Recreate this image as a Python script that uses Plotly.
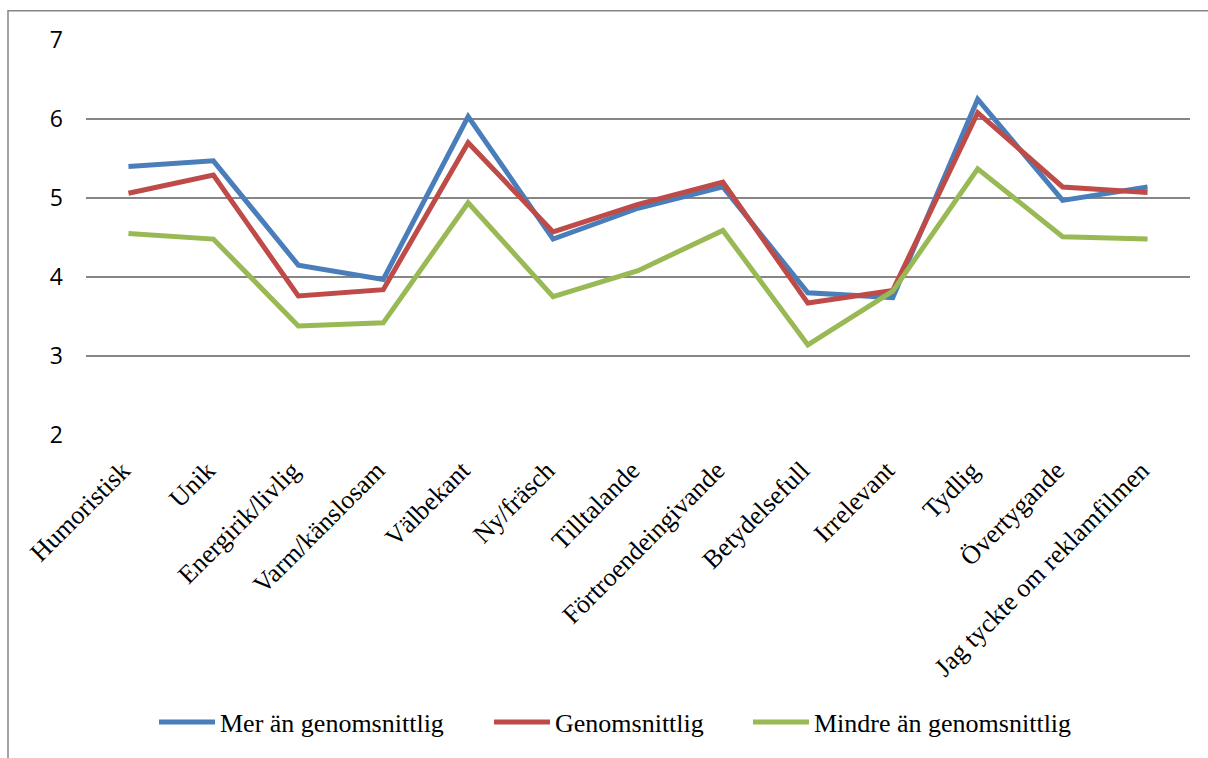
import plotly.graph_objects as go

# Attribute ratings per viewer group
categories = [
    "Humoristisk", "Unik", "Energirik/livlig", "Varm/känslosam", "Välbekant",
    "Ny/fräsch", "Tilltalande", "Förtroendeingivande", "Betydelsefull",
    "Irrelevant", "Tydlig", "Övertygande", "Jag tyckte om reklamfilmen",
]
mer_an = [5.40, 5.47, 4.15, 3.97, 6.03, 4.48, 4.87, 5.14, 3.80, 3.74, 6.25, 4.97, 5.14]
genomsnittlig = [5.06, 5.29, 3.76, 3.84, 5.70, 4.57, 4.92, 5.20, 3.67, 3.83, 6.08, 5.14, 5.07]
mindre_an = [4.55, 4.48, 3.38, 3.42, 4.94, 3.75, 4.08, 4.59, 3.14, 3.82, 5.37, 4.51, 4.48]

# plot-area geometry in pixels, used to place frame and legends in paper units
L, R, T, B = 86, 1190, 39.5, 437.7
W, H = R - L, B - T

def px_x(p):
    return (p - L) / W

def px_y(p):
    return (B - p) / H

# name, values, colour, legend id, legend left edge (px)
series = [
    ("Mer än genomsnittlig", mer_an, "#4A7EBB", "legend", 154),
    ("Genomsnittlig", genomsnittlig, "#BE4B48", "legend2", 489),
    ("Mindre än genomsnittlig", mindre_an, "#98B954", "legend3", 748),
]

fig = go.Figure()
legends = {}
for name, values, color, leg, left in series:
    fig.add_trace(go.Scatter(
        x=categories, y=values, name=name, mode="lines",
        line=dict(color=color, width=5), legend=leg,
    ))
    legends[leg] = dict(
        orientation="h", x=px_x(left), y=px_y(727),
        xanchor="left", yanchor="middle",
        font=dict(family="Liberation Serif", size=26, color="black"),
        itemwidth=56, bgcolor="rgba(0,0,0,0)",
    )

fig.update_layout(
    width=1208, height=758,
    margin=dict(l=L, r=1208 - R, t=T, b=758 - B),
    paper_bgcolor="white", plot_bgcolor="white",
    showlegend=True,
    **legends,
    xaxis=dict(
        type="category", range=[-0.5, 12.5], showgrid=False, zeroline=False,
        showline=False, ticks="", tickangle=-45,
        ticklabelstandoff=14, ticklabelshift=-6,
        tickfont=dict(family="Liberation Serif", size=26, color="black"),
    ),
    yaxis=dict(
        range=[2, 7], dtick=1, showgrid=True, gridcolor="#868686", gridwidth=1.5,
        zeroline=False, showline=False, ticks="", ticklabelstandoff=22,
        tickfont=dict(family="Open Sans", size=23, color="black"),
    ),
    shapes=[dict(
        type="rect", xref="paper", yref="paper",
        x0=px_x(8), x1=px_x(1215), y0=px_y(770), y1=px_y(10),
        line=dict(color="#868686", width=1.5), layer="below",
    )],
)

fig.write_html("out.html")
